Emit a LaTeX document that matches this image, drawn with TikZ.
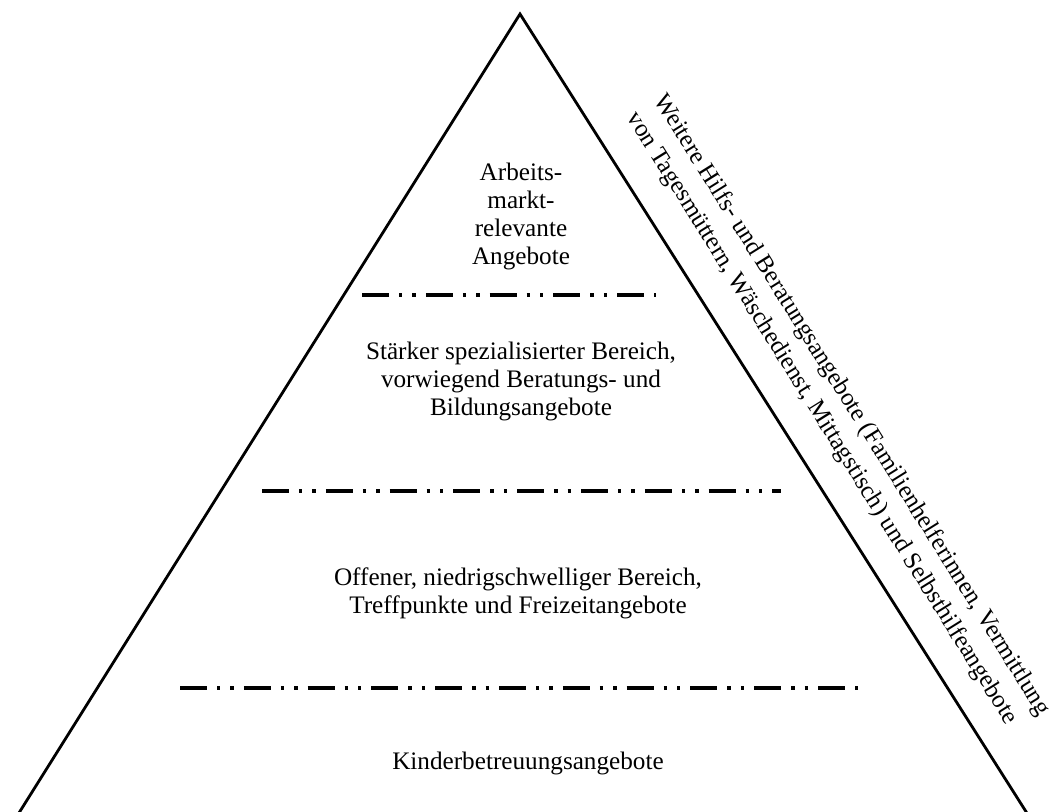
\documentclass[tikz,border=0pt]{standalone}
\usepackage{fontspec}
\setmainfont{Liberation Serif}
\usepackage{tikz}

\begin{document}
\begin{tikzpicture}[x=0.5pt, y=-0.5pt,
  every node/.style = {align=center, font=\fontsize{12.6}{14}\selectfont},
  edge/.style = {line width=1.4pt, line join=miter},
  divider/.style = {line width=1.9pt,
    dash pattern=on 13.5pt off 5pt on 1.7pt off 5pt on 1.7pt off 5pt}]
  \useasboundingbox (0,0) rectangle (1055,812);
  \clip (0,0) rectangle (1055,812);
  % pyramid
  \coordinate (apex) at (520,14);
  \coordinate (baseL) at (2,840);
  \coordinate (baseR) at (1044,840);
  \draw[edge] (baseL) -- (apex) -- (baseR);
  % dividers
  \draw[divider] (362,295) -- (656,295);
  \draw[divider] (262,491) -- (781,491);
  \draw[divider] (180,688) -- (863,688);
  % levels
  \node (top) at (521,216) {Arbeits-\\markt-\\relevante\\Angebote};
  \node (mid) at (521,381) {Stärker spezialisierter Bereich,\\vorwiegend Beratungs- und\\Bildungsangebote};
  \node (low) at (518,593) {Offener, niedrigschwelliger Bereich,\\Treffpunkte und Freizeitangebote};
  \node (base) at (528,763) {Kinderbetreuungsangebote};
  % side text
  \node[rotate=-58, align=left, font=\fontsize{12.4}{16}\selectfont] (side) at (838,414)
    {Weitere Hilfs- und Beratungsangebote (Familienhelferinnen, Vermittlung\\
     von Tagesmüttern, Wäschedienst, Mittagstisch) und Selbsthilfeangebote};
\end{tikzpicture}
\end{document}
